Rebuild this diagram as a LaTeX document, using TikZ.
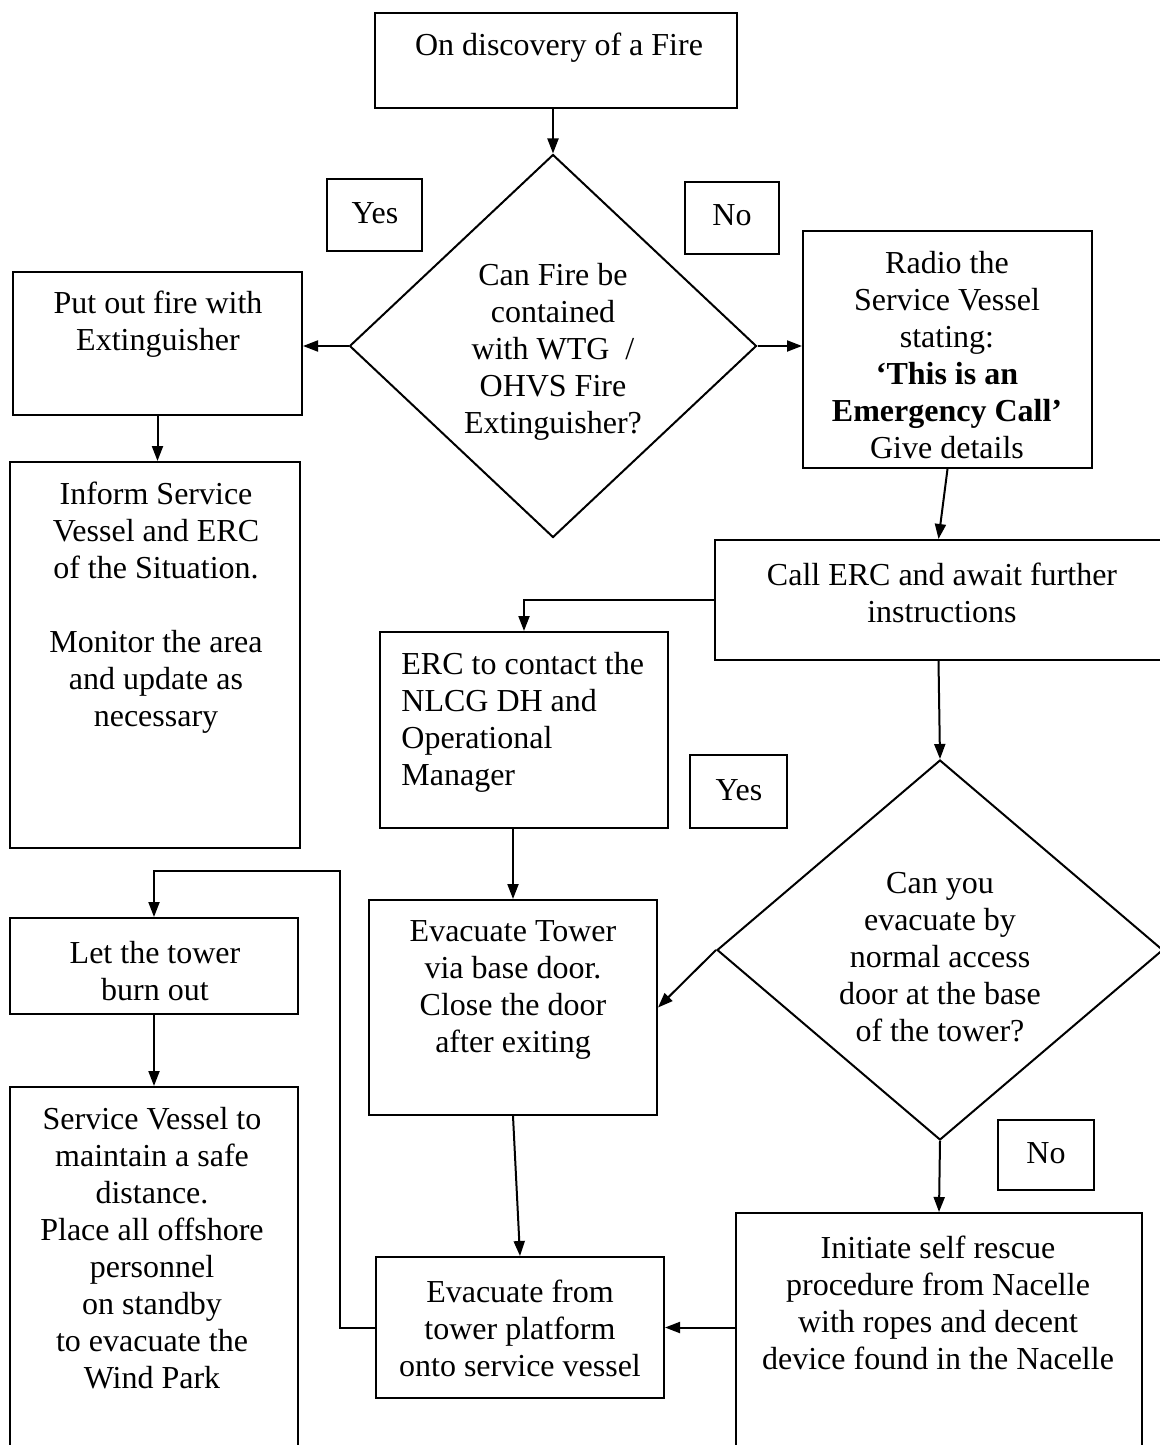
\documentclass[tikz,border=0pt]{standalone}
\usepackage{fontspec}
\setmainfont{Liberation Serif}
\usetikzlibrary{arrows.meta,shapes.geometric}
\begin{document}
\begin{tikzpicture}[x=0.5pt,y=-0.5pt,
  bx/.style 2 args={draw, line width=1pt, minimum width=#1*0.5pt, minimum height=#2*0.5pt, inner sep=0pt},
  dm/.style 2 args={draw, line width=1pt, shape=diamond, minimum width=#1*0.5pt, minimum height=#2*0.5pt, inner sep=0pt},
  txt/.style={align=center, inner sep=0pt, font=\fontsize{16}{18.5}\selectfont},
  arr/.style={line width=1pt, -{Triangle[length=7.5pt,width=5.5pt]}},
  ln/.style={line width=1pt}]
\useasboundingbox (0,0) rectangle (1160,1445);
\fill[white] (0,0) rectangle (1160,1445);

% boxes
\node[bx={362}{95}] (top) at (556,60.5) {};
\node[bx={95}{72}] (yes1) at (374.5,215) {};
\node[bx={94}{72}] (no1) at (732,218) {};
\node[bx={289}{143}] (putout) at (157.5,343.5) {};
\node[bx={289}{237}] (radio) at (947.5,349.5) {};
\node[bx={290}{386}] (inform) at (155,655) {};
\node[bx={447}{120}] (callerc) at (938.5,600) {};
\node[bx={288}{196}] (erc) at (524,730) {};
\node[bx={97}{73}] (yes2) at (738.5,791.5) {};
\node[bx={288}{96}] (letburn) at (154,966) {};
\node[bx={288}{215}] (tower) at (513,1007.5) {};
\node[bx={288}{363}] (svessel) at (154,1268.5) {};
\node[bx={96}{70}] (no2) at (1046,1155) {};
\node[bx={288}{141}] (evfrom) at (520,1327.5) {};
\node[bx={406}{237}] (initiate) at (939,1331.5) {};
\node[dm={407}{383}] (d1) at (553,346) {};
\node[dm={446}{380}] (d2) at (940,950) {};
\coordinate (c1) at (340,871);

% texts
\node[txt] (tyes1) at (375,213) {Yes};
\node[txt] (tno1) at (732,215) {No};
\node[txt] (tyes2) at (739,790) {Yes};
\node[txt] (tno2) at (1046,1153) {No};
\node[txt] (ttop) at (559,48) {On discovery of a Fire};
\node[txt] (td1) at (553,352) {Can Fire be\\contained\\with WTG\ \ /\\OHVS Fire\\Extinguisher?};
\node[txt] (tputout) at (158,324) {Put out fire with\\Extinguisher};
\node[txt] (tradio) at (947,355.5) {Radio the\\Service Vessel\\stating:\\\textbf{‘This is an}\\\textbf{Emergency Call’}\\Give details};
\node[txt] (tinform) at (156,607.5) {Inform Service\\Vessel and ERC\\of the Situation.\\[18.5pt]Monitor the area\\and update as\\necessary};
\node[txt] (tcallerc) at (942,593) {Call ERC and await further\\instructions};
\node[txt,align=left,anchor=west] (terc) at (401,722) {ERC to contact the\\NLCG DH and\\Operational\\Manager};
\node[txt] (td2) at (940,957) {Can you\\evacuate by\\normal access\\door at the base\\of the tower?};
\node[txt] (tletburn) at (155,971) {Let the tower\\burn out};
\node[txt] (ttower) at (513,990) {Evacuate Tower\\via base door.\\Close the door\\after exiting};
\node[txt] (tsvessel) at (152,1248) {Service Vessel to\\maintain a safe\\distance.\\Place all offshore\\personnel\\on standby\\to evacuate the\\Wind Park};
\node[txt] (tevfrom) at (520,1328) {Evacuate from\\tower platform\\onto service vessel};
\node[txt] (tinitiate) at (938,1303) {Initiate self rescue\\procedure from Nacelle\\with ropes and decent\\device found in the Nacelle};

% connectors
\draw[arr] (top.south -| d1.north) -- (d1.north);
\draw[arr] (d1.west) -- (d1.west -| putout.east);
\draw[arr] (d1.east) -- (d1.east -| radio.west);
\draw[arr] (putout.south) -- (putout.south |- inform.north);
\draw[arr] (radio.south) -- (callerc.north);
\draw[arr] (callerc.west) -| (erc.north);
\draw[arr] (callerc.south) -- (d2.north);
\draw[arr] (d2.west) -- (tower.east);
\draw[arr] (d2.south) -- (initiate.north);
\draw[arr] (erc.south -| tower.north) -- (tower.north);
\draw[arr] (tower.south) -- (evfrom.north);
\draw[arr] (initiate.west |- evfrom.east) -- (evfrom.east);
\draw[arr] (evfrom.west) -| (c1) -| (letburn.north);
\draw[arr] (letburn.south) -- (svessel.north);
\end{tikzpicture}
\end{document}
